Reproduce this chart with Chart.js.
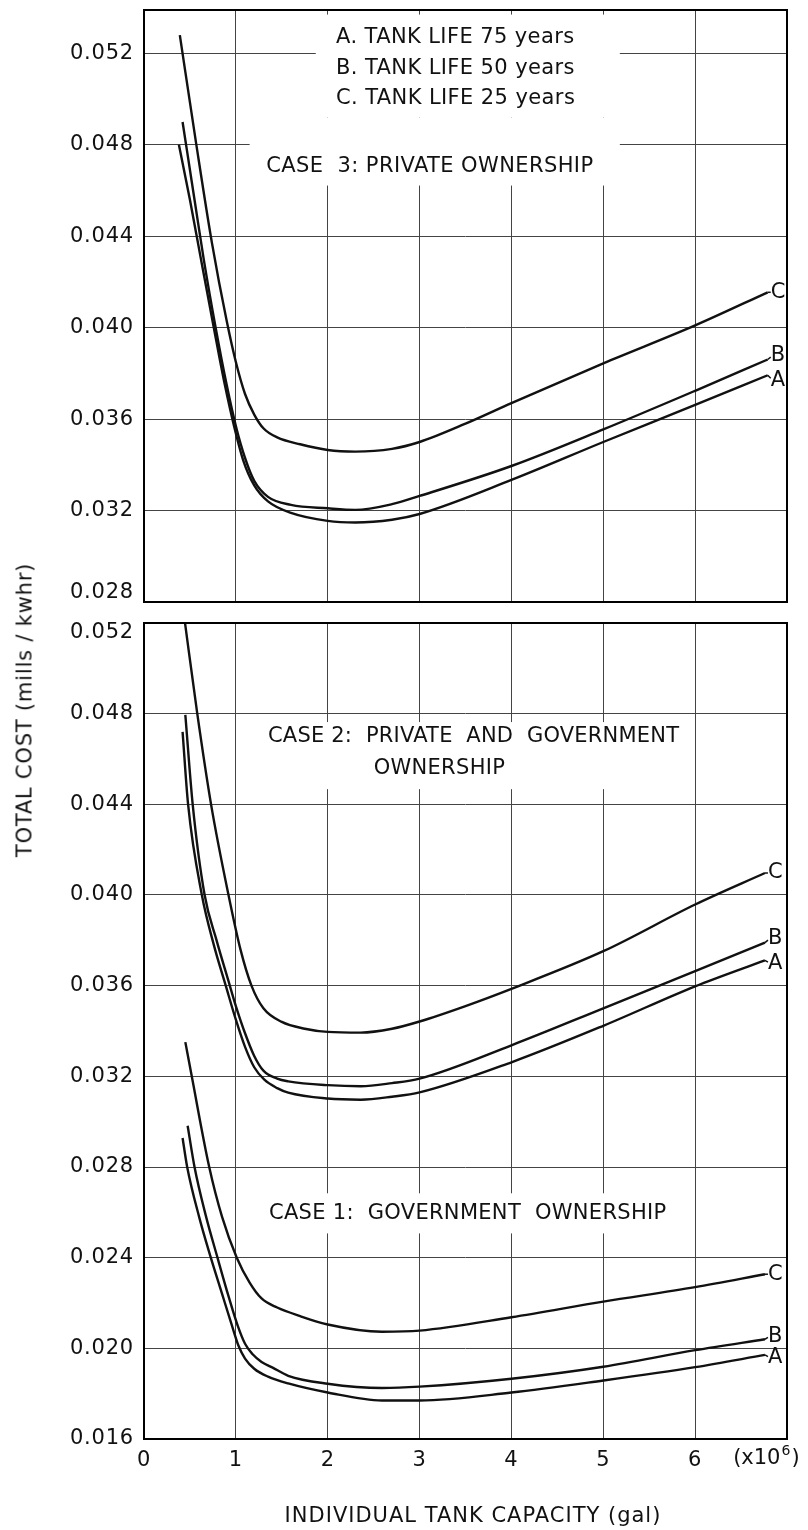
<!DOCTYPE html>
<html>
<head>
<meta charset="utf-8">
<script src="https://cdn.jsdelivr.net/npm/chart.js@4.4.1/dist/chart.umd.min.js"></script>
<style>
  body { margin: 0; background: #fff; }
  #wrap { position: relative; width: 808px; height: 1530px; overflow: hidden; }
  canvas { position: absolute; left: 0; }
  #topChart { top: 0; }
  #bottomChart { top: 612px; }
  .ttl { position: absolute; font-family: "DejaVu Sans"; font-size: 21px; color: #111;
         white-space: nowrap; line-height: 1; transform: translate(-50%, -50%); }
  #ytitle { left: 25px; top: 710px; letter-spacing: 0.8px; transform: translate(-50%, -50%) rotate(-90deg); }
  #xtitle { left: 473px; top: 1515px; letter-spacing: 1.0px; }
</style>
</head>
<body>
<div id="wrap">
  <canvas id="topChart" width="808" height="612"></canvas>
  <canvas id="bottomChart" width="808" height="918"></canvas>
  <div class="ttl" id="ytitle">TOTAL COST (mills / kwhr)</div>
  <div class="ttl" id="xtitle">INDIVIDUAL TANK CAPACITY (gal)</div>
</div>
<script>
document.addEventListener('DOMContentLoaded', function () {
    // axes
    const xTicks = [0, 1, 2, 3, 4, 5, 6];
    const topYTicks = [0.028, 0.032, 0.036, 0.040, 0.044, 0.048, 0.052];
    const bottomYTicks = [0.016, 0.020, 0.024, 0.028, 0.032, 0.036, 0.040, 0.044, 0.048, 0.052];

    // Case 3: private ownership (x in 10^6 gal, y in mills/kwhr)
    const case3C_x = [0.39, 0.57, 0.74, 0.90, 1.00, 1.10, 1.20, 1.30, 1.45, 1.70, 2.00, 2.30, 2.70, 3.00, 3.50, 4.00, 5.00, 6.00, 6.79];
    const case3C_y = [0.0528, 0.0480, 0.0437, 0.0403, 0.0385, 0.0371, 0.0362, 0.0356, 0.0352, 0.0349, 0.03465, 0.03458, 0.0347, 0.0350, 0.0358, 0.0367, 0.03844, 0.0401, 0.04155];
    const case3B_x = [0.42, 0.55, 0.65, 0.78, 0.90, 1.00, 1.10, 1.20, 1.35, 1.60, 2.00, 2.30, 2.70, 3.00, 4.00, 5.00, 6.00, 6.79];
    const case3B_y = [0.0490, 0.0456, 0.0430, 0.0400, 0.0375, 0.0357, 0.0343, 0.0333, 0.0326, 0.03225, 0.0321, 0.03203, 0.03228, 0.03264, 0.03395, 0.03555, 0.03724, 0.03861];
    const case3A_x = [0.38, 0.50, 0.62, 0.76, 0.88, 0.98, 1.08, 1.20, 1.35, 1.60, 2.00, 2.30, 2.70, 3.00, 4.00, 5.00, 6.00, 6.79];
    const case3A_y = [0.0480, 0.0456, 0.0430, 0.0400, 0.0375, 0.0357, 0.0342, 0.0331, 0.0324, 0.0319, 0.03155, 0.03148, 0.0316, 0.03185, 0.03334, 0.0350, 0.03662, 0.03792];

    // Case 2: private and government ownership
    const case2C_x = [0.44, 0.58, 0.73, 0.92, 1.05, 1.17, 1.30, 1.50, 1.75, 2.00, 2.36, 2.70, 3.00, 3.50, 4.00, 5.00, 6.00, 6.76];
    const case2C_y = [0.0522, 0.0480, 0.0440, 0.0400, 0.0376, 0.0360, 0.0350, 0.0344, 0.0341, 0.03396, 0.03393, 0.0341, 0.03442, 0.0351, 0.03586, 0.03752, 0.03958, 0.04097];
    const case2B_x = [0.45, 0.53, 0.66, 0.79, 0.92, 1.00, 1.10, 1.20, 1.30, 1.45, 1.57, 2.00, 2.36, 2.70, 3.00, 4.00, 5.00, 6.00, 6.76];
    const case2B_y = [0.04795, 0.0440, 0.0400, 0.0380, 0.0362, 0.0351, 0.0339, 0.0329, 0.03225, 0.0319, 0.03178, 0.03161, 0.03156, 0.0317, 0.0319, 0.03337, 0.0350, 0.03664, 0.0379];
    const case2A_x = [0.42, 0.48, 0.63, 0.76, 0.89, 1.00, 1.10, 1.20, 1.31, 1.45, 1.57, 2.00, 2.36, 2.70, 3.00, 4.00, 5.00, 6.00, 6.76];
    const case2A_y = [0.0472, 0.0440, 0.0400, 0.0378, 0.0360, 0.0345, 0.0333, 0.0324, 0.03185, 0.03148, 0.03128, 0.03102, 0.03097, 0.0311, 0.03129, 0.03262, 0.03423, 0.03597, 0.03712];

    // Case 1: government ownership
    const case1C_x = [0.45, 0.52, 0.71, 0.85, 1.01, 1.15, 1.28, 1.45, 1.70, 2.00, 2.59, 3.00, 4.00, 5.00, 6.00, 6.76];
    const case1C_y = [0.03351, 0.0320, 0.0280, 0.0258, 0.0240, 0.0229, 0.0222, 0.0218, 0.02142, 0.02105, 0.02073, 0.02078, 0.02137, 0.02206, 0.0227, 0.02327];
    const case1B_x = [0.475, 0.55, 0.67, 0.80, 0.92, 1.02, 1.10, 1.18, 1.28, 1.40, 1.57, 2.00, 2.59, 3.00, 4.00, 5.00, 6.00, 6.76];
    const case1B_y = [0.02982, 0.0280, 0.0259, 0.0240, 0.0223, 0.0210, 0.0202, 0.01975, 0.0194, 0.01915, 0.01879, 0.01844, 0.01825, 0.01831, 0.01866, 0.01919, 0.01992, 0.0204];
    const case1A_x = [0.42, 0.47, 0.60, 0.72, 0.85, 0.95, 1.03, 1.10, 1.20, 1.35, 1.57, 2.00, 2.59, 3.00, 4.00, 5.00, 6.00, 6.76];
    const case1A_y = [0.02928, 0.0280, 0.0258, 0.0241, 0.0224, 0.0211, 0.0201, 0.01955, 0.0191, 0.01875, 0.01845, 0.01805, 0.0177, 0.0177, 0.01805, 0.01858, 0.01917, 0.01971];

    const FONT = '"DejaVu Sans"';
    const INK = '#111';

    const line = (xs, ys, tag, dy) => ({
        data: xs.map((x, i) => ({ x: x, y: ys[i] })),
        borderColor: INK,
        borderWidth: 2.4,
        pointRadius: 0,
        fill: false,
        cubicInterpolationMode: 'monotone',
        endTag: tag,
        endDy: dy
    });

    // texts, white boxes under texts, curve end letters, frame
    const notes = {
        id: 'notes',
        beforeDraw(chart) {
            chart.ctx.letterSpacing = '0.8px';
        },
        beforeDatasetsDraw(chart, args, opts) {
            const { ctx, scales: { x, y } } = chart;
            ctx.save();
            ctx.fillStyle = '#fff';
            (opts.boxes || []).forEach(b => {
                const x0 = x.getPixelForValue(b[0]), x1 = x.getPixelForValue(b[1]);
                const y0 = y.getPixelForValue(b[2]), y1 = y.getPixelForValue(b[3]);
                ctx.fillRect(x0, y0, x1 - x0, y1 - y0);
            });
            ctx.fillStyle = INK;
            ctx.textBaseline = 'middle';
            ctx.textAlign = 'left';
            (opts.texts || []).forEach(t => {
                ctx.font = '21px ' + FONT;
                ctx.letterSpacing = t.ls || '0px';
                ctx.fillText(t.text, x.getPixelForValue(t.x), y.getPixelForValue(t.y));
            });
            ctx.restore();
        },
        afterDatasetsDraw(chart) {
            const { ctx, scales: { x, y } } = chart;
            ctx.save();
            ctx.fillStyle = INK;
            ctx.strokeStyle = INK;
            ctx.lineWidth = 1.5;
            ctx.font = '21px ' + FONT;
            ctx.letterSpacing = '0px';
            ctx.textBaseline = 'middle';
            ctx.textAlign = 'left';
            chart.data.datasets.forEach(ds => {
                const last = ds.data[ds.data.length - 1];
                const px = x.getPixelForValue(last.x), py = y.getPixelForValue(last.y);
                ctx.beginPath();
                ctx.moveTo(px, py);
                ctx.lineTo(px + 3, py + ds.endDy * 0.6);
                ctx.stroke();
                ctx.fillText(ds.endTag, px + 3, py + ds.endDy);
            });
            ctx.restore();
        },
        afterDraw(chart, args, opts) {
            const { ctx, chartArea: a } = chart;
            ctx.save();
            ctx.strokeStyle = '#000';
            ctx.lineWidth = 2;
            ctx.strokeRect(a.left, a.top, a.right - a.left, a.bottom - a.top);
            ctx.fillStyle = INK;
            ctx.textBaseline = 'middle';
            ctx.font = '21px ' + FONT;
            ctx.letterSpacing = '0.8px';
            if (opts.moved) {
                // end tick label pushed inside the panel, as on the drawing
                ctx.textAlign = 'right';
                const py = chart.scales.y.getPixelForValue(opts.moved.value) + opts.moved.dy;
                ctx.fillText(opts.moved.value.toFixed(3), a.left - 10, py);
            }
            if (opts.exponent) {
                ctx.textAlign = 'left';
                ctx.letterSpacing = '0px';
                const px = chart.scales.x.getPixelForValue(6) + 38;
                const py = a.bottom + 20;
                ctx.fillText('(x10', px, py);
                let w = ctx.measureText('(x10').width;
                ctx.font = '14px ' + FONT;
                ctx.fillText('6', px + w + 1, py - 8);
                w += ctx.measureText('6').width + 2;
                ctx.font = '21px ' + FONT;
                ctx.fillText(')', px + w, py);
            }
            ctx.restore();
        }
    };

    const makeChart = (id, datasets, yMin, yMax, yTicks, bottomAxis, padding, noteOpts) => {
        const movedValue = noteOpts.moved ? noteOpts.moved.value : null;
        return new Chart(document.getElementById(id), {
            type: 'line',
            data: { datasets: datasets },
            options: {
                responsive: false,
                animation: false,
                layout: { padding: padding },
                plugins: {
                    legend: { display: false },
                    tooltip: { enabled: false },
                    notes: noteOpts
                },
                scales: {
                    x: {
                        type: 'linear',
                        min: 0,
                        max: 7,
                        afterBuildTicks: ax => { ax.ticks = xTicks.map(v => ({ value: v })); },
                        afterFit: ax => {
                            ax.height = bottomAxis ? 91 : 0;
                            ax.paddingLeft = 0;
                            ax.paddingRight = 0;
                        },
                        ticks: {
                            display: bottomAxis,
                            color: INK,
                            padding: 9,
                            maxRotation: 0,
                            font: { family: 'DejaVu Sans', size: 21 }
                        },
                        grid: { color: '#444', lineWidth: 1, drawTicks: false },
                        border: { display: false }
                    },
                    y: {
                        type: 'linear',
                        min: yMin,
                        max: yMax,
                        afterBuildTicks: ax => { ax.ticks = yTicks.map(v => ({ value: v })); },
                        afterFit: ax => {
                            ax.width = 144;
                            ax.paddingTop = 0;
                            ax.paddingBottom = 0;
                        },
                        ticks: {
                            color: INK,
                            padding: 10,
                            font: { family: 'DejaVu Sans', size: 21 },
                            callback: v => (v === movedValue ? '' : v.toFixed(3))
                        },
                        grid: { color: '#444', lineWidth: 1, drawTicks: false },
                        border: { display: false }
                    }
                }
            },
            plugins: [notes]
        });
    };

    makeChart('topChart', [
        line(case3A_x, case3A_y, 'A', 5),
        line(case3B_x, case3B_y, 'B', -4),
        line(case3C_x, case3C_y, 'C', 0)
    ], 0.028, 0.0539, topYTicks, false, { left: 0, right: 21, top: 10, bottom: 10 }, {
        moved: { value: 0.028, dy: -9 },
        boxes: [[1.87, 5.18, 0.0537, 0.0492], [1.15, 5.18, 0.0492, 0.04622]],
        texts: [
            { text: 'A. TANK LIFE 75 years', x: 2.09, y: 0.0527, ls: '0.4px' },
            { text: 'B. TANK LIFE 50 years', x: 2.09, y: 0.05134, ls: '0.4px' },
            { text: 'C. TANK LIFE 25 years', x: 2.09, y: 0.05003, ls: '0.4px' },
            { text: 'CASE  3: PRIVATE OWNERSHIP', x: 1.33, y: 0.04705, ls: '0.4px' }
        ]
    });

    makeChart('bottomChart', [
        line(case2A_x, case2A_y, 'A', 3),
        line(case2B_x, case2B_y, 'B', -4),
        line(case2C_x, case2C_y, 'C', 0),
        line(case1A_x, case1A_y, 'A', 3),
        line(case1B_x, case1B_y, 'B', -3),
        line(case1C_x, case1C_y, 'C', 0)
    ], 0.016, 0.052, bottomYTicks, true, { left: 0, right: 21, top: 11, bottom: 0 }, {
        exponent: true,
        moved: { value: 0.052, dy: 10 },
        boxes: [[1.25, 5.93, 0.04763, 0.04467], [1.28, 5.77, 0.02684, 0.02507]],
        texts: [
            { text: 'CASE 2:  PRIVATE  AND  GOVERNMENT', x: 1.35, y: 0.04697, ls: '0.2px' },
            { text: 'OWNERSHIP', x: 2.50, y: 0.0456, ls: '0.3px' },
            { text: 'CASE 1:  GOVERNMENT  OWNERSHIP', x: 1.36, y: 0.02595, ls: '0.3px' }
        ]
    });
});
</script>
</body>
</html>
